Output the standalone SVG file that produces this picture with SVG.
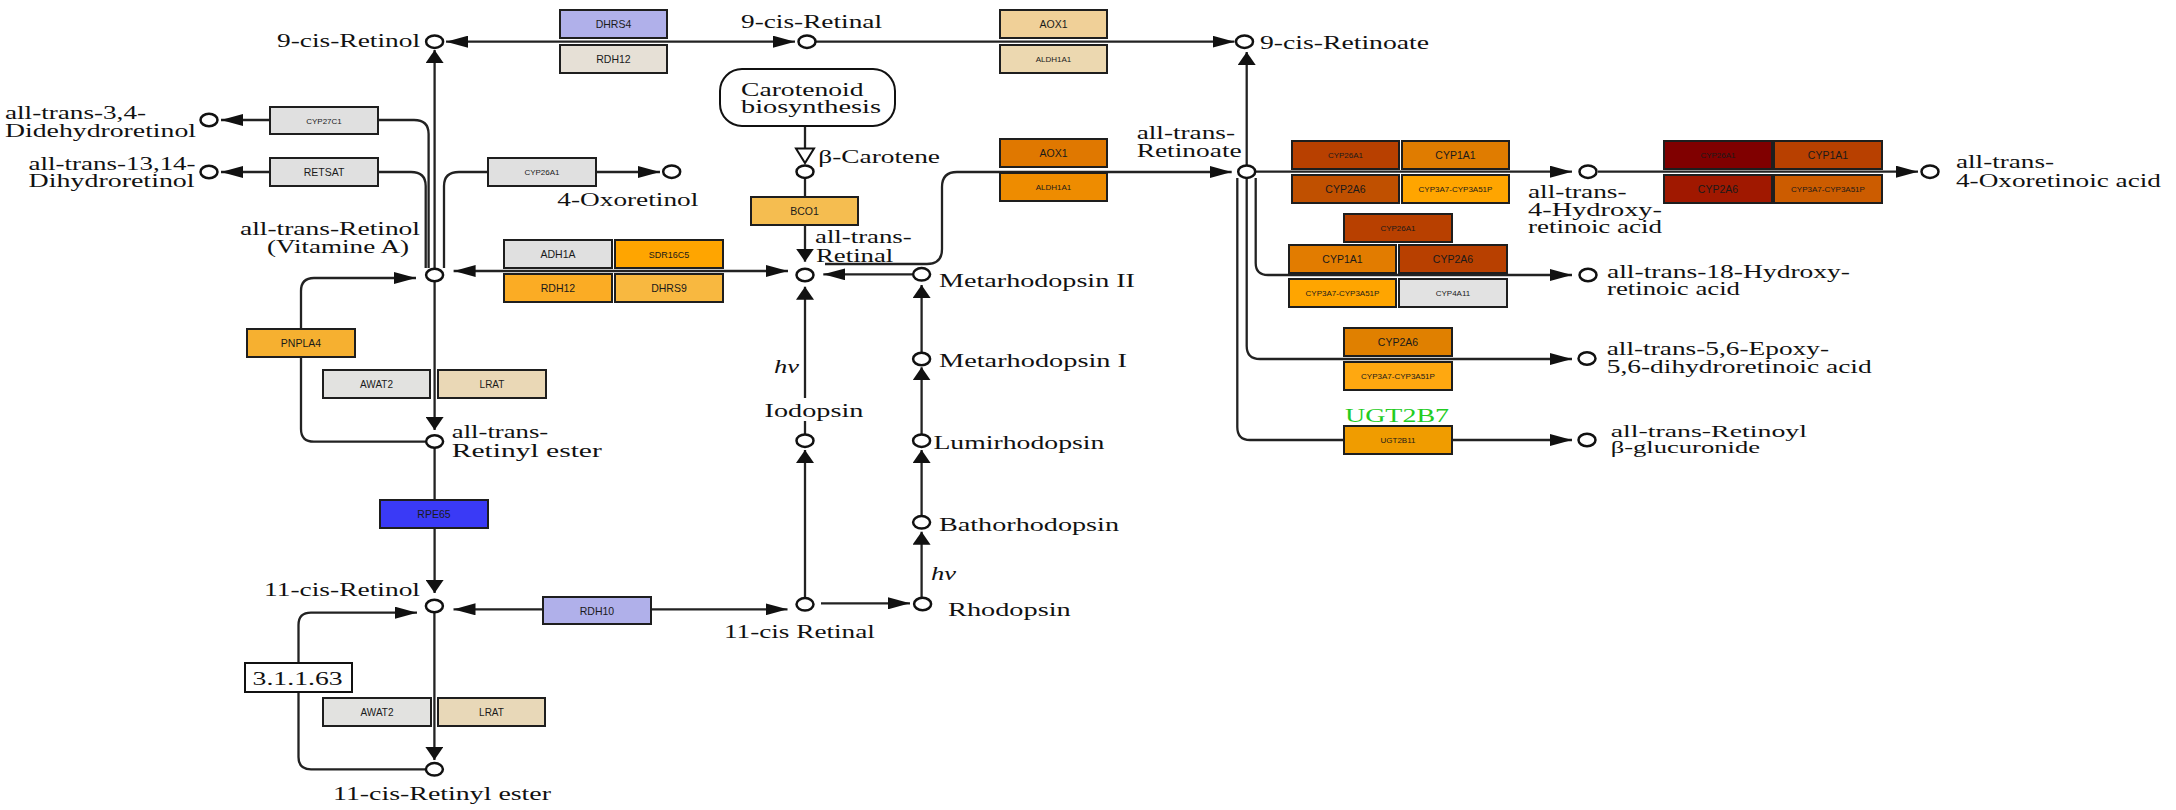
<svg xmlns="http://www.w3.org/2000/svg" width="2176" height="810" viewBox="0 0 2176 810">
<style>
.gb{stroke:#1e1e1e;stroke-width:2}
.gt{font-family:"Liberation Sans",Arial,sans-serif;font-size:10.5px;fill:#1a1a1a;text-anchor:middle}
.gs{font-family:"Liberation Sans",Arial,sans-serif;font-size:8px;fill:#1a1a1a;text-anchor:middle}
.lb{font-family:"Liberation Serif","Times New Roman",serif;font-size:19px;fill:#111}
.cp{fill:#fff;stroke:#111;stroke-width:2.5}
.ln{fill:none;stroke:#222;stroke-width:2.3}
</style>
<defs>
<marker id="mr" markerUnits="userSpaceOnUse" viewBox="0 0 22 12" refX="22" refY="6" markerWidth="22" markerHeight="12" orient="0"><path d="M0,0 L22,6 L0,12 z" fill="#111"/></marker>
<marker id="ml" markerUnits="userSpaceOnUse" viewBox="0 0 22 12" refX="0" refY="6" markerWidth="22" markerHeight="12" orient="0"><path d="M22,0 L0,6 L22,12 z" fill="#111"/></marker>
<marker id="mu" markerUnits="userSpaceOnUse" viewBox="0 0 18 13" refX="9" refY="0" markerWidth="18" markerHeight="13" orient="0"><path d="M0,13 L9,0 L18,13 z" fill="#111"/></marker>
<marker id="md" markerUnits="userSpaceOnUse" viewBox="0 0 18 13" refX="9" refY="13" markerWidth="18" markerHeight="13" orient="0"><path d="M0,0 L18,0 L9,13 z" fill="#111"/></marker>
</defs>
<rect width="2176" height="810" fill="#fff"/>

<g id="connectors">
<path class="ln" d="M446,41.7 H795" marker-start="url(#ml)" marker-end="url(#mr)"/>
<path class="ln" d="M816,41.7 H1234.5" marker-end="url(#mr)"/>
<path class="ln" d="M434.6,268 V50" marker-end="url(#mu)"/>
<path class="ln" d="M428.6,268 V134 Q428.6,120 414,120 H221" marker-end="url(#ml)"/>
<path class="ln" d="M425.7,268 V186 Q425.7,172 411,172 H221" marker-end="url(#ml)"/>
<path class="ln" d="M444,268 V186 Q444,172 459,172 H660" marker-end="url(#mr)"/>
<path class="ln" d="M453.6,271 H788" marker-start="url(#ml)" marker-end="url(#mr)"/>
<path class="ln" d="M434.6,282 V430" marker-end="url(#md)"/>
<path class="ln" d="M425,441.7 H314 Q301,441.7 301,429 V291 Q301,278 314,278 H416" marker-end="url(#mr)"/>
<path class="ln" d="M434.6,447 V593" marker-end="url(#md)"/>
<path class="ln" d="M453.5,609.3 H787.5" marker-start="url(#ml)" marker-end="url(#mr)"/>
<path class="ln" d="M434.4,613 V760" marker-end="url(#md)"/>
<path class="ln" d="M425,769.3 H311 Q298.5,769.3 298.5,757 V625 Q298.5,612.7 311,612.7 H417" marker-end="url(#mr)"/>
<path class="ln" d="M821,603.3 H910" marker-end="url(#mr)"/>
<path class="ln" d="M805,598 V450" marker-end="url(#mu)"/>
<path class="ln" d="M805,434 V421"/>
<path class="ln" d="M805,398 V286.7" marker-end="url(#mu)"/>
<path class="ln" d="M921.6,598 V531.7" marker-end="url(#mu)"/>
<path class="ln" d="M921.6,516 V450" marker-end="url(#mu)"/>
<path class="ln" d="M921.6,434 V367.3" marker-end="url(#mu)"/>
<path class="ln" d="M921.6,352.5 V285" marker-end="url(#mu)"/>
<path class="ln" d="M912,274.3 H823.3" marker-end="url(#ml)"/>
<path class="ln" d="M805,126 V148"/>
<polygon points="796,148.5 814,148.5 805,163" fill="#fff" stroke="#111" stroke-width="2"/>
<path class="ln" d="M805,178 V261.7" marker-end="url(#md)"/>
<path class="ln" d="M825,264 H927 Q942,264 942,249 V187 Q942,172 957,172 H1231.7" marker-end="url(#mr)"/>
<path class="ln" d="M1246.7,165 V52" marker-end="url(#mu)"/>
<path class="ln" d="M1256,171.7 H1572" marker-end="url(#mr)"/>
<path class="ln" d="M1598,171.7 H1918" marker-end="url(#mr)"/>
<path class="ln" d="M1255.7,178 V263 Q1255.7,275 1268,275 H1572" marker-end="url(#mr)"/>
<path class="ln" d="M1246.7,178 V346 Q1246.7,359 1260,359 H1572" marker-end="url(#mr)"/>
<path class="ln" d="M1237.3,178 V427 Q1237.3,440 1250,440 H1572" marker-end="url(#mr)"/>
</g>

<!-- gene boxes -->
<g id="g-DHRS4"><rect class="gb" x="560" y="10" width="107" height="28" fill="#b0b0ea"/><text class="gt" x="613.5" y="28">DHRS4</text></g>
<g id="g-RDH12-top"><rect class="gb" x="560" y="45" width="107" height="28" fill="#e6e0d6"/><text class="gt" x="613.5" y="63">RDH12</text></g>
<g id="g-AOX1-top"><rect class="gb" x="1000" y="10" width="107" height="28" fill="#f0d098"/><text class="gt" x="1053.5" y="28">AOX1</text></g>
<g id="g-ALDH1A1-top"><rect class="gb" x="1000" y="45" width="107" height="28" fill="#ecd8b0"/><text class="gs" x="1053.5" y="62">ALDH1A1</text></g>
<g id="g-CYP27C1"><rect class="gb" x="270" y="107" width="108" height="27" fill="#e0e0e0"/><text class="gs" x="324" y="123.5">CYP27C1</text></g>
<g id="g-RETSAT"><rect class="gb" x="270" y="158" width="108" height="28" fill="#e0e0e0"/><text class="gt" x="324" y="176">RETSAT</text></g>
<g id="g-CYP26A1-left"><rect class="gb" x="488" y="158" width="108" height="28" fill="#e0e0e0"/><text class="gs" x="542" y="175">CYP26A1</text></g>
<g id="g-ADH1A"><rect class="gb" x="504" y="240" width="108" height="28" fill="#e0e0e0"/><text class="gt" x="558" y="258">ADH1A</text></g>
<g id="g-SDR16C5"><rect class="gb" x="615" y="240" width="108" height="28" fill="#ffa500"/><text class="gs" x="669" y="257.5" style="font-size:9px">SDR16C5</text></g>
<g id="g-RDH12-mid"><rect class="gb" x="504" y="274" width="108" height="28" fill="#fbac24"/><text class="gt" x="558" y="292">RDH12</text></g>
<g id="g-DHRS9"><rect class="gb" x="615" y="274" width="108" height="28" fill="#f8b840"/><text class="gt" x="669" y="292">DHRS9</text></g>
<g id="g-BCO1"><rect class="gb" x="751" y="197" width="107" height="28" fill="#f5bd50"/><text class="gt" x="804.5" y="215">BCO1</text></g>
<g id="g-PNPLA4"><rect class="gb" x="247" y="329" width="108" height="28" fill="#f6b030"/><text class="gt" x="301" y="347">PNPLA4</text></g>
<g id="g-AWAT2-a"><rect class="gb" x="323" y="370" width="107" height="28" fill="#e2e2e0"/><text class="gt" x="376.5" y="388" style="font-size:10px">AWAT2</text></g>
<g id="g-LRAT-a"><rect class="gb" x="438" y="370" width="108" height="28" fill="#ead8b6"/><text class="gt" x="492" y="388" style="font-size:10px">LRAT</text></g>
<g id="g-RPE65"><rect class="gb" x="380" y="500" width="108" height="28" fill="#3a3af6"/><text class="gt" x="434" y="518">RPE65</text></g>
<g id="g-RDH10"><rect class="gb" x="543" y="597" width="108" height="27" fill="#b0b0ea"/><text class="gt" x="597" y="614.5">RDH10</text></g>
<g id="g-AWAT2-b"><rect class="gb" x="323" y="698" width="108" height="28" fill="#e2e2e0"/><text class="gt" x="377" y="716" style="font-size:10px">AWAT2</text></g>
<g id="g-LRAT-b"><rect class="gb" x="438" y="698" width="107" height="28" fill="#e8d8b8"/><text class="gt" x="491.5" y="716" style="font-size:10px">LRAT</text></g>
<g id="g-AOX1-mid"><rect class="gb" x="1000" y="139" width="107" height="28" fill="#e07800"/><text class="gt" x="1053.5" y="157">AOX1</text></g>
<g id="g-ALDH1A1-mid"><rect class="gb" x="1000" y="173" width="107" height="28" fill="#ee8c00"/><text class="gs" x="1053.5" y="190">ALDH1A1</text></g>
<g id="g-CYP26A1-r1"><rect class="gb" x="1292" y="141" width="107" height="28" fill="#b84000"/><text class="gs" x="1345.5" y="158">CYP26A1</text></g>
<g id="g-CYP1A1-r1"><rect class="gb" x="1402" y="141" width="107" height="28" fill="#e07c00"/><text class="gt" x="1455.5" y="159">CYP1A1</text></g>
<g id="g-CYP2A6-r1"><rect class="gb" x="1292" y="175" width="107" height="28" fill="#c05000"/><text class="gt" x="1345.5" y="193">CYP2A6</text></g>
<g id="g-CYP3A7-r1"><rect class="gb" x="1402" y="175" width="107" height="28" fill="#ffa500"/><text class="gs" x="1455.5" y="192">CYP3A7-CYP3A51P</text></g>
<g id="g-CYP26A1-r2"><rect class="gb" x="1664" y="141" width="108" height="28" fill="#800000"/><text class="gs" x="1718" y="158">CYP26A1</text></g>
<g id="g-CYP1A1-r2"><rect class="gb" x="1774" y="141" width="108" height="28" fill="#b84000"/><text class="gt" x="1828" y="159">CYP1A1</text></g>
<g id="g-CYP2A6-r2"><rect class="gb" x="1664" y="175" width="108" height="28" fill="#a01800"/><text class="gt" x="1718" y="193">CYP2A6</text></g>
<g id="g-CYP3A7-r2"><rect class="gb" x="1774" y="175" width="108" height="28" fill="#cc5c00"/><text class="gs" x="1828" y="192">CYP3A7-CYP3A51P</text></g>
<g id="g-CYP26A1-r3"><rect class="gb" x="1344" y="214" width="108" height="28" fill="#b84000"/><text class="gs" x="1398" y="231">CYP26A1</text></g>
<g id="g-CYP1A1-r3"><rect class="gb" x="1289" y="245" width="107" height="28" fill="#e27c00"/><text class="gt" x="1342.5" y="263">CYP1A1</text></g>
<g id="g-CYP2A6-r3"><rect class="gb" x="1399" y="245" width="108" height="28" fill="#b84000"/><text class="gt" x="1453" y="263">CYP2A6</text></g>
<g id="g-CYP3A7-r3"><rect class="gb" x="1289" y="279" width="107" height="28" fill="#ffa500"/><text class="gs" x="1342.5" y="296">CYP3A7-CYP3A51P</text></g>
<g id="g-CYP4A11"><rect class="gb" x="1399" y="279" width="108" height="28" fill="#e2e2e2"/><text class="gs" x="1453" y="296">CYP4A11</text></g>
<g id="g-CYP2A6-r4"><rect class="gb" x="1344" y="328" width="108" height="28" fill="#e08000"/><text class="gt" x="1398" y="346">CYP2A6</text></g>
<g id="g-CYP3A7-r4"><rect class="gb" x="1344" y="362" width="108" height="28" fill="#ffa810"/><text class="gs" x="1398" y="379">CYP3A7-CYP3A51P</text></g>
<g id="g-UGT2B11"><text x="1345" y="421.7" textLength="104" lengthAdjust="spacingAndGlyphs" style="font-family:'Liberation Serif',serif;font-size:19px;fill:#22cc22">UGT2B7</text><rect class="gb" x="1344" y="426" width="108" height="28" fill="#f09c00"/><text class="gs" x="1398" y="443">UGT2B11</text></g>
<g id="ec-3.1.1.63"><rect x="245" y="663" width="107" height="29" fill="#fff" stroke="#111" stroke-width="2"/><text class="lb" x="252.6" y="685" textLength="90" lengthAdjust="spacingAndGlyphs">3.1.1.63</text></g>

<!-- map -->
<g id="map-carotenoid"><rect x="720" y="69" width="175" height="57" rx="22" ry="22" fill="#fff" stroke="#111" stroke-width="2"/><text class="lb" x="741" y="96" textLength="122.6" lengthAdjust="spacingAndGlyphs">Carotenoid</text><text class="lb" x="741" y="113" textLength="140" lengthAdjust="spacingAndGlyphs">biosynthesis</text></g>

<!-- compounds -->
<g id="c-9cis-retinol"><ellipse class="cp" cx="434.6" cy="41.7" rx="8.5" ry="6.2"/><text class="lb" x="277" y="47" textLength="143" lengthAdjust="spacingAndGlyphs">9-cis-Retinol</text></g>
<g id="c-9cis-retinal"><ellipse class="cp" cx="807" cy="41.7" rx="8.5" ry="6.2"/><text class="lb" x="741" y="28" textLength="141" lengthAdjust="spacingAndGlyphs">9-cis-Retinal</text></g>
<g id="c-9cis-retinoate"><ellipse class="cp" cx="1244.5" cy="41.7" rx="8.5" ry="6.2"/><text class="lb" x="1260" y="49" textLength="169" lengthAdjust="spacingAndGlyphs">9-cis-Retinoate</text></g>
<g id="c-didehydroretinol"><ellipse class="cp" cx="209" cy="120" rx="8.5" ry="6.2"/><text class="lb" x="5" y="119" textLength="141" lengthAdjust="spacingAndGlyphs">all-trans-3,4-</text><text class="lb" x="5" y="137" textLength="191" lengthAdjust="spacingAndGlyphs">Didehydroretinol</text></g>
<g id="c-dihydroretinol"><ellipse class="cp" cx="209" cy="172" rx="8.5" ry="6.2"/><text class="lb" x="28.6" y="170" textLength="167" lengthAdjust="spacingAndGlyphs">all-trans-13,14-</text><text class="lb" x="28.6" y="187" textLength="166" lengthAdjust="spacingAndGlyphs">Dihydroretinol</text></g>
<g id="c-4-oxoretinol"><ellipse class="cp" cx="671.7" cy="171.7" rx="8.5" ry="6.2"/><text class="lb" x="557.3" y="206" textLength="141" lengthAdjust="spacingAndGlyphs">4-Oxoretinol</text></g>
<g id="c-beta-carotene"><ellipse class="cp" cx="805" cy="171.7" rx="8.5" ry="6.2"/><text class="lb" x="818.3" y="163.3" textLength="121.7" lengthAdjust="spacingAndGlyphs">β-Carotene</text></g>
<g id="c-retinol"><ellipse class="cp" cx="434.6" cy="275" rx="8.5" ry="6.2"/><text class="lb" x="240" y="235" textLength="180" lengthAdjust="spacingAndGlyphs">all-trans-Retinol</text><text class="lb" x="267" y="253" textLength="142" lengthAdjust="spacingAndGlyphs">(Vitamine A)</text></g>
<g id="c-retinal"><ellipse class="cp" cx="805" cy="275" rx="8.5" ry="6.2"/><text class="lb" x="815" y="243.3" textLength="96.7" lengthAdjust="spacingAndGlyphs">all-trans-</text><text class="lb" x="816" y="261.7" textLength="77.3" lengthAdjust="spacingAndGlyphs">Retinal</text></g>
<g id="c-metarhodopsin2"><ellipse class="cp" cx="921.6" cy="274.3" rx="8.5" ry="6.2"/><text class="lb" x="939" y="286.5" textLength="196" lengthAdjust="spacingAndGlyphs">Metarhodopsin II</text></g>
<g id="c-metarhodopsin1"><ellipse class="cp" cx="921.6" cy="359" rx="8.5" ry="6.2"/><text class="lb" x="939" y="366.7" textLength="188" lengthAdjust="spacingAndGlyphs">Metarhodopsin I</text></g>
<g id="c-iodopsin"><ellipse class="cp" cx="805" cy="440.7" rx="8.5" ry="6.2"/><text class="lb" x="764.6" y="416.7" textLength="98.8" lengthAdjust="spacingAndGlyphs">Iodopsin</text><text class="lb" x="774" y="373" textLength="25" lengthAdjust="spacingAndGlyphs" font-style="italic">hν</text></g>
<g id="c-lumirhodopsin"><ellipse class="cp" cx="921.6" cy="440.7" rx="8.5" ry="6.2"/><text class="lb" x="933.4" y="449.3" textLength="171" lengthAdjust="spacingAndGlyphs">Lumirhodopsin</text></g>
<g id="c-retinyl-ester"><ellipse class="cp" cx="434.6" cy="441.5" rx="8.5" ry="6.2"/><text class="lb" x="451.8" y="438.3" textLength="96.4" lengthAdjust="spacingAndGlyphs">all-trans-</text><text class="lb" x="451.8" y="456.7" textLength="150" lengthAdjust="spacingAndGlyphs">Retinyl ester</text></g>
<g id="c-bathorhodopsin"><ellipse class="cp" cx="921.6" cy="522.3" rx="8.5" ry="6.2"/><text class="lb" x="939" y="530.7" textLength="180" lengthAdjust="spacingAndGlyphs">Bathorhodopsin</text></g>
<g id="c-11cis-retinol"><ellipse class="cp" cx="434.4" cy="606" rx="8.5" ry="6.2"/><text class="lb" x="264" y="596" textLength="156" lengthAdjust="spacingAndGlyphs">11-cis-Retinol</text></g>
<g id="c-11cis-retinal"><ellipse class="cp" cx="805" cy="604.3" rx="8.5" ry="6.2"/><text class="lb" x="724" y="637.7" textLength="150.8" lengthAdjust="spacingAndGlyphs">11-cis Retinal</text></g>
<g id="c-rhodopsin"><ellipse class="cp" cx="922.6" cy="604" rx="8.5" ry="6.2"/><text class="lb" x="948" y="616" textLength="122.7" lengthAdjust="spacingAndGlyphs">Rhodopsin</text><text class="lb" x="931" y="580" textLength="25" lengthAdjust="spacingAndGlyphs" font-style="italic">hν</text></g>
<g id="c-11cis-retinyl-ester"><ellipse class="cp" cx="434.4" cy="769.3" rx="8.5" ry="6.2"/><text class="lb" x="333" y="800" textLength="218" lengthAdjust="spacingAndGlyphs">11-cis-Retinyl ester</text></g>
<g id="c-retinoate"><ellipse class="cp" cx="1246.7" cy="171.7" rx="8.5" ry="6.2"/><text class="lb" x="1136.7" y="139.3" textLength="98.3" lengthAdjust="spacingAndGlyphs">all-trans-</text><text class="lb" x="1136.7" y="157.3" textLength="105" lengthAdjust="spacingAndGlyphs">Retinoate</text></g>
<g id="c-4-hydroxy"><ellipse class="cp" cx="1588" cy="171.7" rx="8.5" ry="6.2"/><text class="lb" x="1528" y="198" textLength="98.6" lengthAdjust="spacingAndGlyphs">all-trans-</text><text class="lb" x="1528" y="216" textLength="134" lengthAdjust="spacingAndGlyphs">4-Hydroxy-</text><text class="lb" x="1528" y="233" textLength="134" lengthAdjust="spacingAndGlyphs">retinoic acid</text></g>
<g id="c-4-oxoretinoic"><ellipse class="cp" cx="1930" cy="171.7" rx="8.5" ry="6.2"/><text class="lb" x="1956" y="168" textLength="98" lengthAdjust="spacingAndGlyphs">all-trans-</text><text class="lb" x="1956" y="187" textLength="205" lengthAdjust="spacingAndGlyphs">4-Oxoretinoic acid</text></g>
<g id="c-18-hydroxy"><ellipse class="cp" cx="1588" cy="275" rx="8.5" ry="6.2"/><text class="lb" x="1607" y="277.5" textLength="243" lengthAdjust="spacingAndGlyphs">all-trans-18-Hydroxy-</text><text class="lb" x="1607" y="295" textLength="133" lengthAdjust="spacingAndGlyphs">retinoic acid</text></g>
<g id="c-epoxy"><ellipse class="cp" cx="1587" cy="358.5" rx="8.5" ry="6.2"/><text class="lb" x="1606.7" y="355" textLength="222.3" lengthAdjust="spacingAndGlyphs">all-trans-5,6-Epoxy-</text><text class="lb" x="1606.7" y="373.3" textLength="265" lengthAdjust="spacingAndGlyphs">5,6-dihydroretinoic acid</text></g>
<g id="c-glucuronide"><ellipse class="cp" cx="1587" cy="440" rx="8.5" ry="6.2"/><text class="lb" x="1610.7" y="436.7" textLength="196.3" lengthAdjust="spacingAndGlyphs" style="font-size:17px">all-trans-Retinoyl</text><text class="lb" x="1610.7" y="453.3" textLength="149.3" lengthAdjust="spacingAndGlyphs" style="font-size:17px">β-glucuronide</text></g>
</svg>
